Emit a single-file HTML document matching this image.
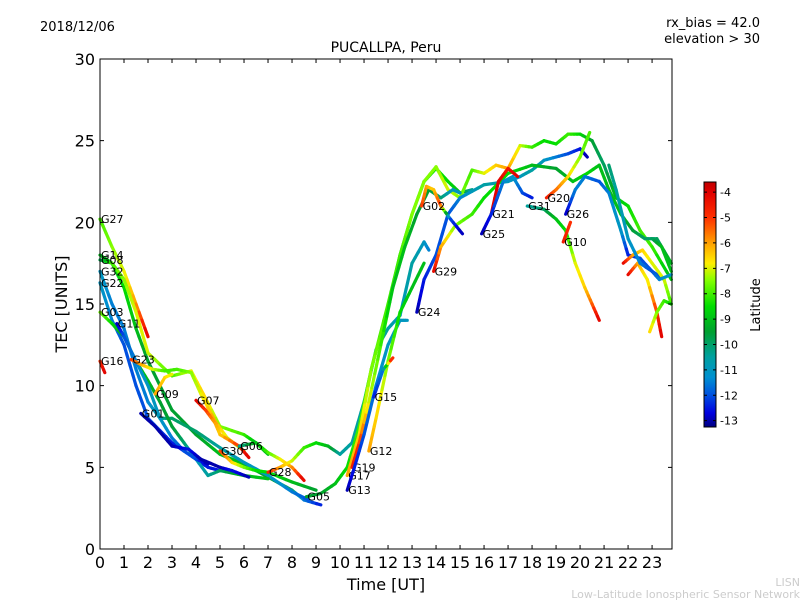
<!DOCTYPE html>
<html><head><meta charset="utf-8"><style>
body{margin:0;background:#fff;width:800px;height:600px;overflow:hidden;font-family:"Liberation Sans","DejaVu Sans",sans-serif}
svg text{font-family:"DejaVu Sans","Liberation Sans",sans-serif}
</style></head><body>
<svg id="chart" width="800" height="600" xmlns="http://www.w3.org/2000/svg">
<defs><linearGradient id="jet" x1="0" y1="1" x2="0" y2="0"></linearGradient></defs>
<text x="40" y="31" font-size="13">2018/12/06</text>
<text x="760" y="27" font-size="13" text-anchor="end">rx_bias = 42.0</text>
<text x="760" y="43" font-size="13" text-anchor="end">elevation &gt; 30</text>
<text x="386" y="52" font-size="14" text-anchor="middle">PUCALLPA, Peru</text>
<g id="plot"></g>
<rect x="100" y="59" width="572" height="490" fill="none" stroke="#000" stroke-width="1"/>
<g id="axes"></g>
<text x="386" y="590" font-size="16" text-anchor="middle">Time [UT]</text>
<text x="67" y="304" font-size="16" text-anchor="middle" transform="rotate(-90 67 304)">TEC [UNITS]</text>
<rect x="704" y="182" width="12" height="245" fill="url(#jet)" stroke="#000" stroke-width="1"/>
<g id="cbticks"></g>
<text x="760" y="305" font-size="13" text-anchor="middle" transform="rotate(-90 760 305)">Latitude</text>
<text x="800" y="586" font-size="11" fill="#ccc" text-anchor="end">LISN</text>
<text x="800" y="598" font-size="11" fill="#ccc" text-anchor="end">Low-Latitude Ionospheric Sensor Network</text>
</svg>
<script>
const xTicks=[0,1,2,3,4,5,6,7,8,9,10,11,12,13,14,15,16,17,18,19,20,21,22,23];
const yTicks=[0,5,10,15,20,25,30];
const cbTicks=[-4,-5,-6,-7,-8,-9,-10,-11,-12,-13];
const satNames=["G27","G14","G08","G32","G22","G03","G11","G16","G23","G09","G01","G07","G30","G06","G28","G05","G17","G19","G13","G12","G15","G24","G29","G02","G21","G25","G20","G31","G26","G10","G18","G04","G33","G34","G35"];
const labels=[1,1,1,1,1,1,1,1,1,1,1,1,1,1,1,1,1,1,1,1,1,1,1,1,1,1,1,1,1,1,0,0,0,0,0];
const tracks=[
[[0,20.2,-8],[0.5,18.5,-7.5],[1,17,-7],[1.5,15,-6],[2,13,-4]],
[[0,18,-9],[0.5,17.5,-9],[1,16,-8.5],[1.5,13.5,-9],[2,11.5,-9.5],[3,8.5,-9.5],[4,7,-9.5],[5,5.8,-9],[6,5.2,-9],[7,4.4,-9.5],[8,3.6,-10],[8.5,3,-11.5],[9.2,2.7,-12.5]],
[[0,17.7,-10],[0.5,17.5,-8],[1,16.5,-7.5],[1.5,14.5,-7],[2,12,-7],[3,10.6,-8],[3.8,10.9,-7],[4.3,9.5,-6.5],[5,7.5,-7.5],[6,7,-8],[6.5,6.5,-9],[7,5.8,-9]],
[[0,17,-11],[0.5,15,-11.5],[1,13.5,-11.5],[1.5,11,-11.5],[2,9,-11.5],[2.5,8,-10.5],[3,8,-10],[4,7.2,-10],[5,6.2,-10.5],[6,5.3,-11],[7,4.5,-11],[8,3.5,-11.5],[8.7,3,-12]],
[[0,16.3,-11],[0.5,14,-11.5],[1,12.5,-12],[1.5,10,-12],[2,8,-12],[3,6.5,-12.5],[4,5.5,-12.5],[4.5,5,-12.5],[5,4.8,-12.5]],
[[0,14.5,-7.5],[0.5,13.8,-8.5],[1,13,-9.5],[1.5,11.5,-9],[2,10.3,-9],[2.5,9,-9.5],[3,7.5,-9.5],[3.5,6.5,-10],[4,5.5,-11],[4.5,4.5,-10.5],[5,4.8,-10],[6,4.5,-9],[7,4.3,-9]],
[[0.7,13.8,-13],[1,13,-12],[1.5,11.5,-11.5],[2,10,-11],[2.5,8,-11],[3,6.8,-11.5],[3.5,6,-12],[4,5.5,-12],[4.5,5.2,-13]],
[[0,11.5,-5],[0.2,10.8,-4]],
[[1.3,11.6,-5],[1.7,11.3,-6],[2.2,11,-7],[2.7,10.9,-8],[3.2,11,-8],[3.8,10.8,-7.5],[4.2,9.5,-7],[4.8,7.8,-6],[5.3,6.8,-7],[6,6,-7.5]],
[[2.3,9.5,-6],[2.7,10.5,-6.5],[3,10.7,-7]],
[[1.7,8.3,-13],[2.3,7.5,-13],[3,6.3,-13],[3.7,6.1,-12.5],[4.2,5.5,-13],[5,5,-13],[5.5,4.8,-12.5],[6.2,4.4,-13]],
[[4,9.1,-4],[4.4,8.5,-5],[4.8,7.7,-6],[5,7,-6.5],[5.8,6.3,-5],[6.2,5.6,-4]],
[[5,6,-5],[5.5,5.3,-6.5],[6,5,-7.5],[6.5,4.8,-8.5],[7,4.7,-8.5],[8,4.1,-9],[9,3.6,-9.5]],
[[5.8,6.3,-10.5],[6.5,6.5,-9],[7,5.9,-8],[7.5,5.5,-7],[8,5,-6],[8.5,4.2,-4]],
[[7,4.7,-4.5],[7.5,5,-6],[8,5.4,-7],[8.5,6.2,-8],[9,6.5,-8.5],[9.5,6.3,-9],[10,5.8,-10.5],[10.5,6.5,-10.5],[11,9,-10.5],[11.5,12.2,-10.5],[12,13.5,-10.5],[12.5,14.3,-11],[13,17.5,-10.5],[13.5,18.8,-11],[13.7,18.3,-11.5]],
[[8.6,3.2,-9.5],[9.2,3.4,-9.5],[9.8,4,-9],[10.3,5,-8.5],[10.8,7.5,-8],[11.3,11,-8],[12,15,-8],[12.5,18,-8.5],[13,20.5,-8],[13.5,22.5,-8.5],[14,23.3,-8.5],[14.5,22.5,-8.5],[15,21.8,-9],[15.5,22,-10.5]],
[[10.3,4.5,-6],[10.8,7,-6.5],[11.3,11,-7.5],[12,14.8,-8],[12.5,18,-8],[13,20.5,-7.5],[13.5,22.5,-7.5],[14,23.4,-7.5],[14.5,22,-7],[15,21.5,-7.5],[15.5,23.2,-8],[16,23,-7],[16.5,23.5,-6.5],[17,23.3,-6],[17.5,24.7,-7],[18,24.6,-8],[18.5,25,-8.5],[19,24.8,-8.5],[19.5,25.4,-8],[20,25.4,-8.5],[20.5,25,-9.5],[21,23.5,-10],[21.5,21.5,-9],[22,21,-8.5],[22.5,19.5,-8],[23,18.5,-8],[23.8,16.5,-9]],
[[10.5,5,-4.5],[10.8,6.5,-5],[11.2,9,-7],[11.7,12.5,-8],[12.2,16,-9],[12.7,18.5,-9],[13.2,20.5,-9.5],[13.7,22,-9.5],[14.2,21.5,-10],[14.7,22,-11],[15,21.8,-11]],
[[10.3,3.6,-13],[10.6,5,-12.5],[11,7,-12],[11.5,10,-11.5],[12,12.5,-11],[12.5,14,-11],[12.8,14,-11]],
[[11.2,6,-6],[11.5,8,-6.5],[12,11.5,-7.5],[12.5,14.5,-8.5],[13,16,-9],[13.5,17.5,-9]],
[[11.4,9.3,-12.5],[11.8,11,-11.5],[12.2,11.7,-4]],
[[13.2,14.5,-13],[13.5,16.5,-12.5],[14,18,-12],[14.5,20.5,-12],[15,21.5,-11.5],[16,22.3,-10.5],[17,22.5,-11],[17.5,22.8,-11],[18,23.2,-10.5],[18.5,23.8,-11],[19,24,-11.5],[19.5,24.2,-12],[20,24.5,-12.5],[20.3,24,-13]],
[[13.9,17,-4],[14.2,18.5,-6],[14.8,19.8,-7.5],[15.5,20.5,-8],[16,21.5,-8.5],[17,23,-8.5],[18,23.5,-9],[19,23.3,-9.5],[19.7,22.5,-9],[20.3,23,-8.5],[20.8,23.5,-9],[21.2,22,-9],[21.7,20.5,-9],[22.2,19.5,-9.5],[22.7,19,-10],[23.2,19,-10],[23.8,17.5,-9]],
[[13.4,21,-5],[13.6,22.2,-6],[13.9,22,-6.5],[14.2,21,-5],[14.6,20.2,-12],[15.1,19.3,-13]],
[[16.3,20.5,-4],[16.6,22.5,-4],[17,23.3,-4.5],[17.4,22.8,-4]],
[[15.9,19.3,-13],[16.3,20.5,-12.5],[16.8,22.5,-11.5],[17.2,22.8,-11],[17.6,21.8,-12],[18,21.5,-12.5]],
[[18.6,21.5,-4.5],[19,22,-5.5],[19.5,22.8,-6.5],[20,24,-7.5],[20.4,25.5,-8]],
[[17.8,21,-10.5],[18.5,20.8,-10],[19,20.2,-9],[19.4,19.5,-8.5],[19.8,17.5,-7],[20.2,16,-6.5],[20.5,15,-5.5],[20.8,14,-4]],
[[19.4,20.5,-13],[19.8,22,-11.5],[20.2,22.8,-11.5],[20.8,22.5,-12],[21.2,21.8,-11.5],[21.7,19.5,-11],[22,18,-12.5],[22.5,17.8,-12],[23,17,-12],[23.5,16.5,-12]],
[[19.3,18.8,-4.5],[19.6,20,-5]],
[[21.8,17.5,-4],[22.2,18,-6],[22.6,18.3,-6.5],[23,17.5,-7],[23.5,16.5,-7],[23.8,15,-8]],
[[22,16.8,-4],[22.4,17.5,-6],[22.8,16.5,-7],[23.2,14.5,-5],[23.4,13,-4]],
[[22.9,13.3,-6.5],[23.2,14.5,-7.5],[23.5,15.2,-8],[23.8,15,-8.5]],
[[21.2,23.5,-10],[21.5,22,-10.5],[22,19,-11],[22.5,17.5,-11.5],[23,17,-12],[23.3,16.5,-11.5],[23.8,16.8,-11]],
[[23,19,-10],[23.4,18.5,-9],[23.8,17,-9]]
];
const X0=100,X1=672,Y0=549,Y1=59,TMAX=23.83,TECMAX=30,LMIN=-13.25,LMAX=-3.6;
const cmap=[[-13.25,[0,0,128]],[-12.7,[0,0,224]],[-12,[0,80,224]],[-11.3,[0,144,208]],[-10.5,[0,160,160]],[-9.5,[0,160,48]],[-8.5,[0,221,0]],[-7.5,[128,255,0]],[-6.8,[255,238,0]],[-6,[255,160,0]],[-5,[255,48,0]],[-4,[224,0,0]],[-3.6,[192,0,0]]];
function sx(t){return X0+(t/TMAX)*(X1-X0);}
function sy(v){return Y0-(v/TECMAX)*(Y0-Y1);}
function col(lat){
 if(lat<=cmap[0][0]) return `rgb(${cmap[0][1]})`;
 for(let i=0;i<cmap.length-1;i++){const a=cmap[i],b=cmap[i+1];
  if(lat<=b[0]){const f=(lat-a[0])/(b[0]-a[0]);return `rgb(${a[1].map((c,j)=>Math.round(c+(b[1][j]-c)*f)).join(',')})`;}}
 return `rgb(${cmap[cmap.length-1][1]})`;}
const NS="http://www.w3.org/2000/svg";
const grad=document.getElementById('jet');
cmap.forEach(s=>{const st=document.createElementNS(NS,'stop');st.setAttribute('offset',(s[0]-LMIN)/(LMAX-LMIN));st.setAttribute('stop-color',`rgb(${s[1]})`);grad.appendChild(st);});
const plot=document.getElementById('plot');
tracks.forEach((tr,i)=>{
 const g=document.createElementNS(NS,'g');
 
 
 for(let k=0;k<tr.length-1;k++){
  const a=tr[k],b=tr[k+1];
  for(let s=0;s<4;s++){
   const f0=s/4,f1=(s+1)/4;
   const l=document.createElementNS(NS,'line');
   l.setAttribute('x1',sx(a[0]+(b[0]-a[0])*f0));l.setAttribute('y1',sy(a[1]+(b[1]-a[1])*f0));
   l.setAttribute('x2',sx(a[0]+(b[0]-a[0])*f1));l.setAttribute('y2',sy(a[1]+(b[1]-a[1])*f1));
   const lat=a[2]+(b[2]-a[2])*(f0+f1)/2;
   l.setAttribute('stroke',col(lat));
   l.setAttribute('stroke-width','3.2');l.setAttribute('stroke-linecap','round');
   g.appendChild(l);
  }
 }
 plot.appendChild(g);
 if(labels[i]){
  const t=document.createElementNS(NS,'text');
  
  
  t.setAttribute('x',sx(tr[0][0])+1);t.setAttribute('y',sy(tr[0][1])+4);
  t.setAttribute('font-size','11');t.textContent=satNames[i];
  plot.appendChild(t);
 }
});
const axes=document.getElementById('axes');
xTicks.forEach(v=>{
 const x=sx(v);
 const l=document.createElementNS(NS,'path');
 
 
 l.setAttribute('d',`M${x} 549v-4M${x} 59v4`);l.setAttribute('stroke','#000');axes.appendChild(l);
 const t=document.createElementNS(NS,'text');
 
 
 t.setAttribute('x',x);t.setAttribute('y',568);t.setAttribute('font-size','16');t.setAttribute('text-anchor','middle');t.textContent=v;axes.appendChild(t);
});
yTicks.forEach(v=>{
 const y=sy(v);
 const l=document.createElementNS(NS,'path');
 
 
 l.setAttribute('d',`M100 ${y}h4M672 ${y}h-4`);l.setAttribute('stroke','#000');axes.appendChild(l);
 const t=document.createElementNS(NS,'text');
 
 
 t.setAttribute('x',95);t.setAttribute('y',y+6);t.setAttribute('font-size','16');t.setAttribute('text-anchor','end');t.textContent=v;axes.appendChild(t);
});
const cb=document.getElementById('cbticks');
cbTicks.forEach(v=>{
 const y=427-(v-LMIN)/(LMAX-LMIN)*245;
 const l=document.createElementNS(NS,'path');
 
 
 l.setAttribute('d',`M704 ${y}h3M716 ${y}h-3`);l.setAttribute('stroke','#000');cb.appendChild(l);
 const t=document.createElementNS(NS,'text');
 
 
 t.setAttribute('x',720);t.setAttribute('y',y+4);t.setAttribute('font-size','11');t.textContent=v;cb.appendChild(t);
});
</script>
</body></html>
